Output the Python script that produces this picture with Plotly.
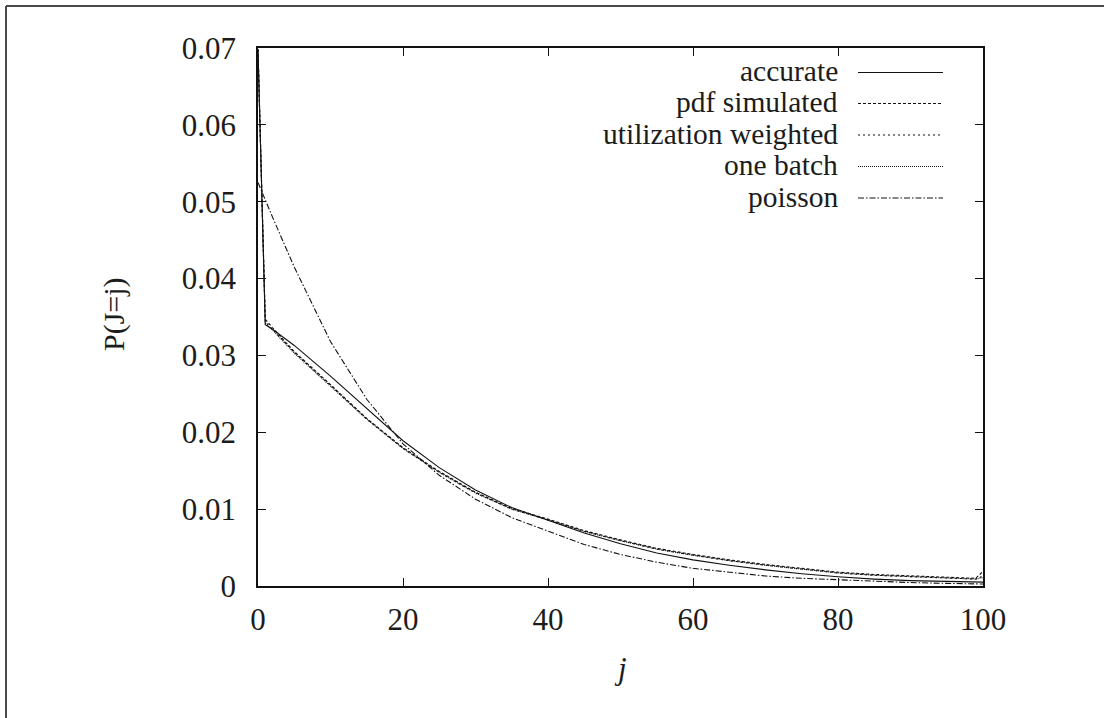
import plotly.graph_objects as go

# Sample points of the distribution P(J=j)
j_vals = [0, 1, 2, 5, 10, 15, 20, 25, 30, 35, 40, 45, 50, 55, 60, 65, 70, 75, 80, 85, 90, 95, 99, 100]

accurate = [0.0698, 0.0340, 0.0334, 0.0313, 0.0273, 0.0231, 0.0189, 0.0154, 0.0125, 0.0102, 0.0086,
            0.0069, 0.0055, 0.0043, 0.0034, 0.0027, 0.0021, 0.0016, 0.0012, 0.0009, 0.0007, 0.0006, 0.0005, 0.0005]
pdf_simulated = [0.0698, 0.0347, 0.0336, 0.0305, 0.0262, 0.0218, 0.0180, 0.0149, 0.0122, 0.0101, 0.0087,
                 0.0072, 0.0060, 0.0049, 0.0041, 0.0034, 0.0028, 0.0023, 0.0018, 0.0015, 0.0013, 0.0011, 0.0010, 0.0019]
utilization_weighted = [0.0698, 0.0344, 0.0334, 0.0304, 0.0261, 0.0217, 0.0179, 0.0148, 0.0121, 0.0100, 0.0086,
                        0.0071, 0.0059, 0.0048, 0.0040, 0.0033, 0.0027, 0.0022, 0.0017, 0.0014, 0.0012, 0.0010, 0.0009, 0.0013]
one_batch = [0.0698, 0.0342, 0.0333, 0.0303, 0.0260, 0.0217, 0.0179, 0.0148, 0.0121, 0.0100, 0.0086,
             0.0071, 0.0059, 0.0048, 0.0040, 0.0033, 0.0027, 0.0022, 0.0017, 0.0014, 0.0012, 0.0010, 0.0009, 0.0011]
poisson = [0.0525, 0.0502, 0.0480, 0.0415, 0.0318, 0.0243, 0.0185, 0.0144, 0.0113, 0.0089, 0.0071,
           0.0054, 0.0041, 0.0031, 0.0023, 0.0018, 0.0013, 0.0010, 0.0008, 0.0006, 0.00045, 0.00034, 0.00028, 0.00026]

series_names = ["accurate", "pdf simulated", "utilization weighted", "one batch", "poisson"]
series_values = [accurate, pdf_simulated, utilization_weighted, one_batch, poisson]
series_dash = ["solid", "3px,2px", "2px,3px", "1px,1px", "6px,2px,1.5px,2px"]

x_ticks = [0, 20, 40, 60, 80, 100]
y_ticks = [0, 0.01, 0.02, 0.03, 0.04, 0.05, 0.06, 0.07]
y_tick_text = ["0", "0.01", "0.02", "0.03", "0.04", "0.05", "0.06", "0.07"]

FONT = "Liberation Serif"
INK = "#1c1c1c"
TEXT_SIZE = 31
KEY_SIZE = 29.5

# page geometry (pixels)
W, H = 1104, 718
L, R, T, B = 258, 121, 48, 132
pw, ph = W - L - R, H - T - B


def px(x):
    return (x - L) / pw


def py(y):
    return (H - B - y) / ph


fig = go.Figure()
for name, vals, dash in zip(series_names, series_values, series_dash):
    fig.add_trace(go.Scatter(
        x=j_vals, y=vals, mode="lines", name=name,
        line=dict(color="#111111", width=1.1, dash=dash),
        showlegend=False,
    ))

# key: right-aligned labels with line samples
key_rows = [72.5, 103.5, 135, 166.5, 198]
for name, dash, yy in zip(series_names, series_dash, key_rows):
    fig.add_annotation(
        x=px(839), y=py(yy - 1), xref="paper", yref="paper",
        text=name, showarrow=False, xanchor="right", yanchor="middle",
        borderpad=0,
        font=dict(family=FONT, size=KEY_SIZE, color=INK),
    )
    fig.add_shape(
        type="line", xref="paper", yref="paper",
        x0=px(858), x1=px(943), y0=py(yy), y1=py(yy),
        line=dict(color="#111111", width=1.1, dash=dash),
    )

# axis titles
fig.add_annotation(
    x=px(114), y=py(314), xref="paper", yref="paper", text="P(J=j)",
    showarrow=False, textangle=-90, xanchor="center", yanchor="middle",
    font=dict(family=FONT, size=30, color=INK),
)
fig.add_annotation(
    x=px(620), y=py(668), xref="paper", yref="paper", text="<i>j</i>",
    showarrow=False, xanchor="center", yanchor="middle",
    font=dict(family=FONT, size=TEXT_SIZE, color=INK),
)

# outer page frame (top and left edges)
fig.add_shape(type="line", xref="paper", yref="paper",
              x0=px(6), x1=px(W + 10), y0=py(6), y1=py(6),
              line=dict(color="#4a4a4a", width=2))
fig.add_shape(type="line", xref="paper", yref="paper",
              x0=px(6), x1=px(6), y0=py(6), y1=py(H + 10),
              line=dict(color="#4a4a4a", width=2))

axis_common = dict(
    showgrid=False, zeroline=False, showline=True, linecolor="#111111", linewidth=1.5,
    mirror="ticks", ticks="inside", ticklen=8, tickwidth=1.2, tickcolor="#111111",
    tickfont=dict(family=FONT, size=TEXT_SIZE, color=INK),
)

fig.update_layout(
    width=W, height=H,
    margin=dict(l=L, r=R, t=T, b=B),
    paper_bgcolor="white", plot_bgcolor="white",
    font=dict(family=FONT, color=INK),
    xaxis=dict(range=[0, 100], tickvals=x_ticks, ticklabelstandoff=5, **axis_common),
    yaxis=dict(range=[0, 0.07], tickvals=y_ticks, ticktext=y_tick_text, ticklabelstandoff=14, **axis_common),
)

fig.write_html("out.html")
